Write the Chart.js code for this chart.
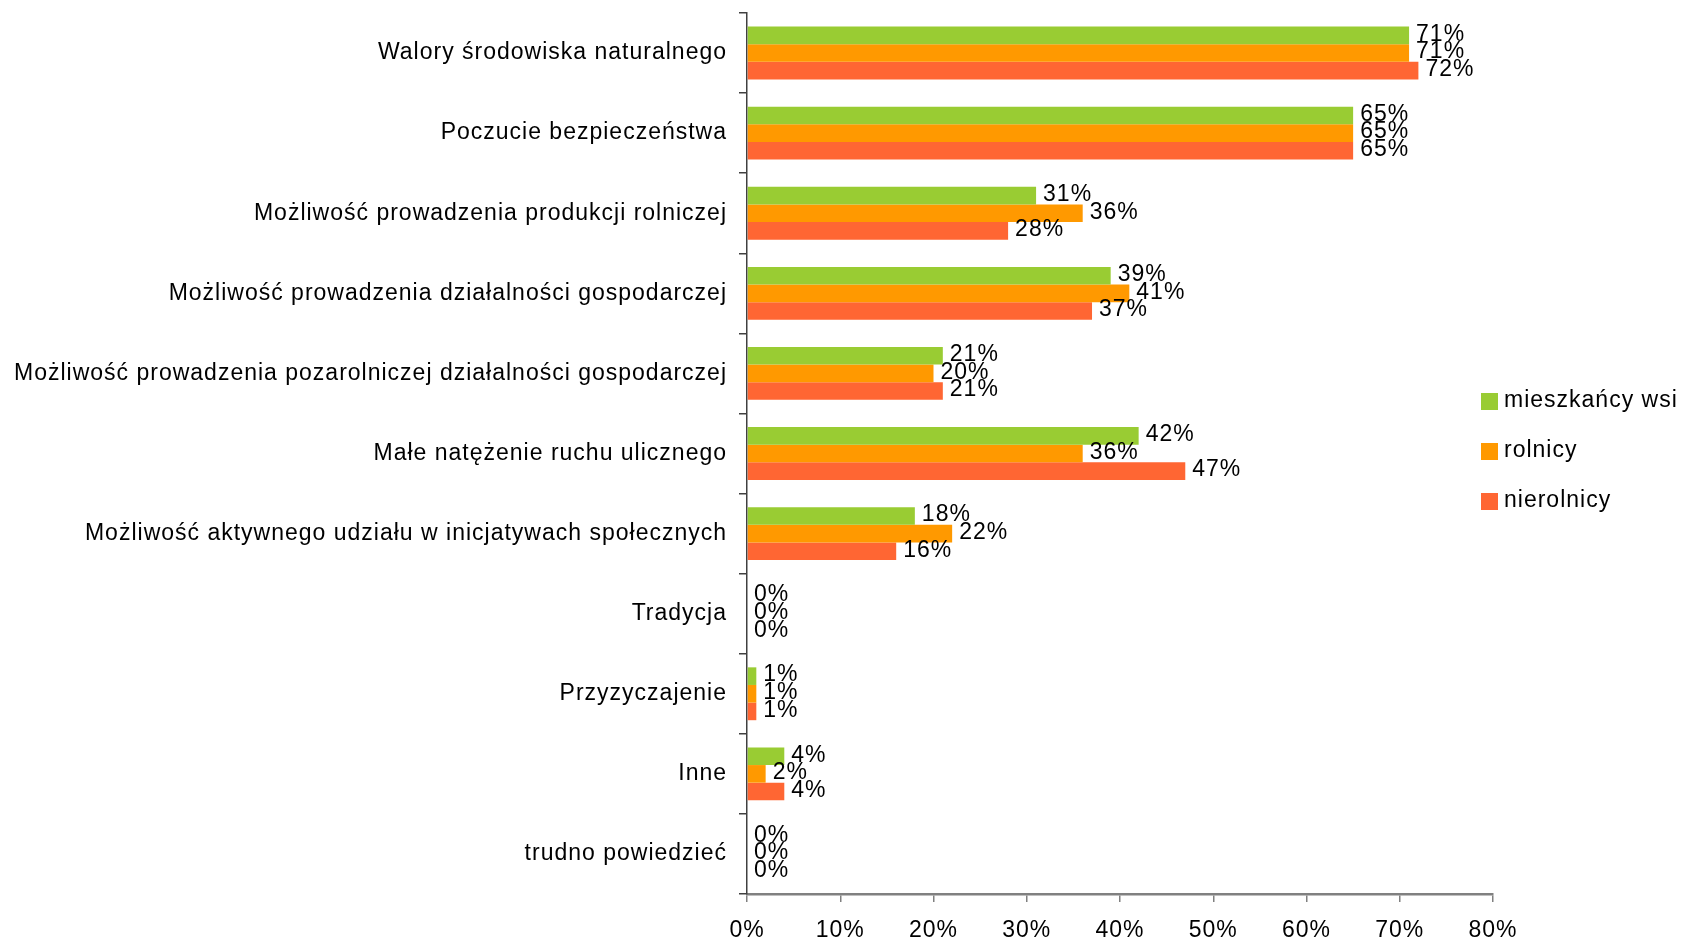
<!DOCTYPE html>
<html>
<head>
<meta charset="utf-8">
<script src="https://cdn.jsdelivr.net/npm/chart.js@4"></script>
<style>
  html, body { margin: 0; padding: 0; background: #ffffff; }
  #wrap { width: 1681px; height: 943px; position: relative; }
</style>
</head>
<body>
<div id="wrap"><canvas id="c" width="1681" height="943"></canvas></div>
<script>
const categories = [
  "Walory środowiska naturalnego",
  "Poczucie bezpieczeństwa",
  "Możliwość prowadzenia produkcji rolniczej",
  "Możliwość prowadzenia działalności gospodarczej",
  "Możliwość prowadzenia pozarolniczej działalności gospodarczej",
  "Małe natężenie ruchu ulicznego",
  "Możliwość aktywnego udziału w inicjatywach społecznych",
  "Tradycja",
  "Przyzyczajenie",
  "Inne",
  "trudno powiedzieć"
];
const seriesNames = ["mieszkańcy wsi", "rolnicy", "nierolnicy"];
const mieszkancyWsi = [71, 65, 31, 39, 21, 42, 18, 0, 1, 4, 0];
const rolnicy       = [71, 65, 36, 41, 20, 36, 22, 0, 1, 2, 0];
const nierolnicy    = [72, 65, 28, 37, 21, 47, 16, 0, 1, 4, 0];
const xTicks = [0, 10, 20, 30, 40, 50, 60, 70, 80];

const colors = ["#99CC33", "#FF9900", "#FF6633"];
const FONT = "'Liberation Sans', Arial, sans-serif";
const SPACING = "1px";

const spacingPlugin = {
  id: 'spacing',
  beforeInit(chart) { chart.ctx.letterSpacing = SPACING; },
  beforeUpdate(chart) { chart.ctx.letterSpacing = SPACING; },
  beforeLayout(chart) { chart.ctx.letterSpacing = SPACING; },
  beforeDraw(chart) { chart.ctx.letterSpacing = SPACING; }
};

const valueLabels = {
  id: 'valueLabels',
  afterDatasetsDraw(chart) {
    const ctx = chart.ctx;
    ctx.save();
    ctx.letterSpacing = SPACING;
    ctx.font = "23px " + FONT;
    ctx.fillStyle = "#000";
    ctx.textAlign = "left";
    ctx.textBaseline = "middle";
    chart.data.datasets.forEach((ds, i) => {
      const meta = chart.getDatasetMeta(i);
      meta.data.forEach((el, j) => {
        ctx.fillText(ds.data[j] + "%", el.x + 7, el.y - 1);
      });
    });
    ctx.restore();
  }
};

const customLegend = {
  id: 'customLegend',
  afterDraw(chart) {
    const ctx = chart.ctx;
    ctx.save();
    ctx.letterSpacing = SPACING;
    ctx.font = "23px " + FONT;
    ctx.textAlign = "left";
    ctx.textBaseline = "middle";
    chart.data.datasets.forEach((ds, i) => {
      const y = 393 + 50 * i;
      ctx.fillStyle = ds.backgroundColor;
      ctx.fillRect(1481, y, 17, 17);
      ctx.fillStyle = "#000";
      ctx.fillText(ds.label, 1504, y + 8);
    });
    ctx.restore();
  }
};

new Chart(document.getElementById('c'), {
  type: 'bar',
  data: {
    labels: categories,
    datasets: [
      { label: seriesNames[0], data: mieszkancyWsi, backgroundColor: colors[0] },
      { label: seriesNames[1], data: rolnicy, backgroundColor: colors[1] },
      { label: seriesNames[2], data: nierolnicy, backgroundColor: colors[2] }
    ]
  },
  options: {
    indexAxis: 'y',
    responsive: false,
    animation: false,
    devicePixelRatio: 1,
    layout: { padding: { top: 13, right: 188, bottom: 0, left: 0 } },
    datasets: { bar: { categoryPercentage: 0.66, barPercentage: 1.0 } },
    plugins: { legend: { display: false }, tooltip: { enabled: false } },
    scales: {
      x: {
        min: 0, max: 80,
        afterBuildTicks(scale) { scale.ticks = xTicks.map(v => ({ value: v })); },
        afterFit(scale) { scale.height = 49; scale.paddingLeft = 0; scale.paddingRight = 0; },
        ticks: {
          callback: v => v + "%",
          font: { size: 23, family: FONT },
          color: "#000",
          padding: 15,
          maxRotation: 0
        },
        grid: { drawOnChartArea: false, drawTicks: true, tickLength: 8, color: "#808080", lineWidth: 1.5 },
        border: { color: "#808080", width: 2.5 }
      },
      y: {
        afterFit(scale) { scale.width = 747; scale.paddingTop = 0; scale.paddingBottom = 0; },
        ticks: {
          font: { size: 23, family: FONT },
          color: "#000",
          padding: 12,
          autoSkip: false
        },
        grid: { offset: true, drawOnChartArea: false, drawTicks: true, tickLength: 8, color: "#404040", lineWidth: 1.5 },
        border: { color: "#404040", width: 1.5 }
      }
    }
  },
  plugins: [spacingPlugin, valueLabels, customLegend]
});
</script>
</body>
</html>
